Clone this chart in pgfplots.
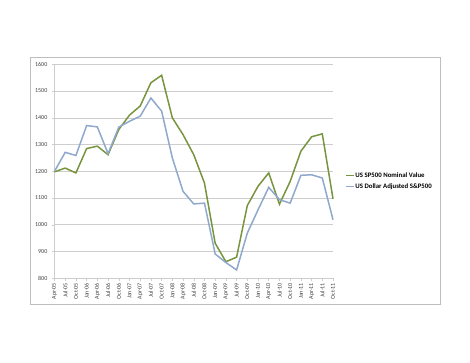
\documentclass[border=0pt]{standalone}
\usepackage{fontspec}
\setmainfont{Carlito}
\usepackage{pgfplots}
\pgfplotsset{compat=1.18}
\definecolor{sgreen}{RGB}{120,148,62}
\definecolor{sblue}{RGB}{143,168,204}
\definecolor{gridc}{RGB}{205,205,205}
\definecolor{framec}{RGB}{190,190,190}
\begin{document}
\begin{tikzpicture}
\path (0pt,0pt) rectangle (470pt,363pt);
\draw[framec, line width=0.9pt] (30pt,59pt) rectangle (440pt,305.3pt);
\begin{axis}[
  at={(54.5pt,84.7pt)}, anchor=origin,
  scale only axis, width=278.5pt, height=214pt,
  xmin=0, xmax=26, ymin=800, ymax=1600,
  ytick={800,900,...,1600},
  xtick={0,...,26},
  xticklabels={Apr-05,Jul-05,Oct-05,Jan-06,Apr-06,Jul-06,Oct-06,Jan-07,Apr-07,Jul-07,Oct-07,Jan-08,Apr-08,Jul-08,Oct-08,Jan-09,Apr-09,Jul-09,Oct-09,Jan-10,Apr-10,Jul-10,Oct-10,Jan-11,Apr-11,Jul-11,Oct-11},
  x tick label style={rotate=90, anchor=east, font=\fontsize{6}{7}\selectfont, text=black!75, inner sep=1.5pt},
  y tick label style={font=\fontsize{6}{7}\selectfont, text=black!75, inner sep=4pt},
  /pgf/number format/assume math mode=true,
  /pgf/number format/1000 sep={},
  axis lines*=left,
  axis line style={gridc, line width=0.6pt, -},
  ymajorgrids, grid style={gridc, line width=0.6pt},
  tick align=outside, major tick length=3pt,
  tick style={gridc, line width=0.5pt},
  legend style={at={(1.043,0.454)}, anchor=west, draw=none, fill=none,
    font=\fontsize{6.8}{8}\selectfont\bfseries, row sep=2.5pt, inner sep=0pt,
    nodes={inner sep=1pt}},
  legend cell align=left,
  legend image code/.code={\draw[#1, line width=1.2pt] (0pt,0pt) -- (8pt,0pt);},
  clip=false,
]
\addplot[sgreen, line width=1.5pt] coordinates {
(0,1198) (1,1212) (2,1194) (3,1285) (4,1294) (5,1262) (6,1356) (7,1410) (8,1444)
(9,1531) (10,1559) (11,1400) (12,1337) (13,1262) (14,1156) (15,931) (16,862) (17,879)
(18,1072) (19,1144) (20,1194) (21,1077) (22,1162) (23,1275) (24,1329) (25,1340) (26,1097)};
\addlegendentry{US SP500 Nominal Value}
\addplot[sblue, line width=1.5pt] coordinates {
(0,1200) (1,1271) (2,1259) (3,1371) (4,1366) (5,1266) (6,1365) (7,1387) (8,1406)
(9,1474) (10,1425) (11,1250) (12,1125) (13,1078) (14,1081) (15,891) (16,859) (17,831)
(18,969) (19,1056) (20,1140) (21,1094) (22,1081) (23,1185) (24,1187) (25,1175) (26,1019)};
\addlegendentry{US Dollar Adjusted S\&P500}
\end{axis}
\end{tikzpicture}
\end{document}
